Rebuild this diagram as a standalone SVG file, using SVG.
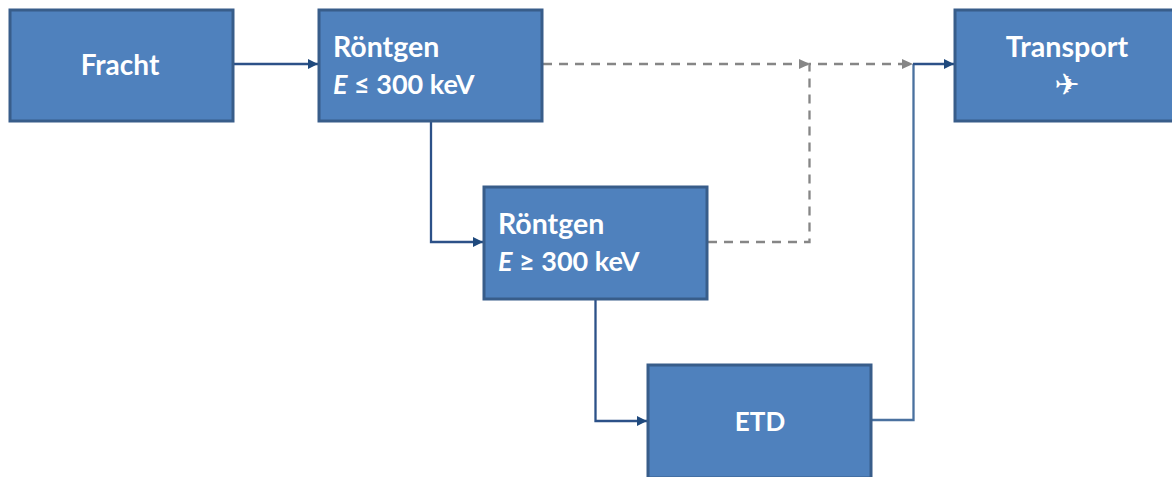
<svg xmlns="http://www.w3.org/2000/svg" width="1172" height="477" viewBox="0 0 1172 477">
<defs>
<marker id="ab" markerUnits="userSpaceOnUse" markerWidth="11" markerHeight="12" refX="10" refY="6" orient="auto"><path d="M0 1L10 6L0 11Z" fill="#1f497d"/></marker>
<marker id="ag" markerUnits="userSpaceOnUse" markerWidth="12" markerHeight="12" refX="11" refY="6" orient="auto"><path d="M0 1L11 6L0 11Z" fill="#868686"/></marker>
</defs>
<style>
.box{fill:#4f81bd;stroke:#385d8a;stroke-width:3}
.t{font-family:"Lato","Open Sans",sans-serif;font-weight:700;font-size:28px;fill:#fff}
.l2{font-size:27px}
.c{fill:none;stroke:#2c5188;stroke-width:2.300}
.d{fill:none;stroke:#868686;stroke-width:2.300;stroke-dasharray:9 7}
</style>
<rect width="1172" height="477" fill="#fff"/>
<g id="connectors">
<path class="d" d="M543 64H810" marker-end="url(#ag)"/>
<path class="d" d="M708 242H809.500V64H913" marker-end="url(#ag)"/>
<path class="c" d="M234 64H318" marker-end="url(#ab)"/>
<path class="c" d="M431 122V242H483" marker-end="url(#ab)"/>
<path class="c" d="M595.500 300V421H647" marker-end="url(#ab)"/>
<path class="c" style="stroke:#4a719f" d="M872 420H913.500V64"/>
<path class="c" d="M913 64H954" marker-end="url(#ab)"/>
</g>
<g id="fracht"><rect class="box" x="10" y="10" width="223" height="111"/><text class="t" x="120" y="75" text-anchor="middle">Fracht</text></g>
<g id="roentgen1"><rect class="box" x="319" y="10" width="223" height="111"/><text class="t" style="font-size:28.500px" x="333" y="57">Röntgen</text><text class="t l2" x="333" y="94"><tspan font-style="italic">E</tspan> ≤ 300 keV</text></g>
<g id="roentgen2"><rect class="box" x="484" y="187" width="223" height="112"/><text class="t" style="font-size:28.500px" x="498" y="234">Röntgen</text><text class="t l2" x="498" y="271"><tspan font-style="italic">E</tspan> ≥ 300 keV</text></g>
<g id="etd"><rect class="box" x="648" y="365" width="223" height="113"/><text class="t" style="font-size:26px" x="760" y="431" text-anchor="middle">ETD</text></g>
<g id="transport"><rect class="box" x="955" y="10" width="225" height="111"/><text class="t" style="font-size:28.700px" x="1067" y="56.500" text-anchor="middle">Transport</text><text x="1067" y="95" text-anchor="middle" font-family="DejaVu Sans,sans-serif" font-size="30" fill="#fff">✈</text></g>
</svg>
